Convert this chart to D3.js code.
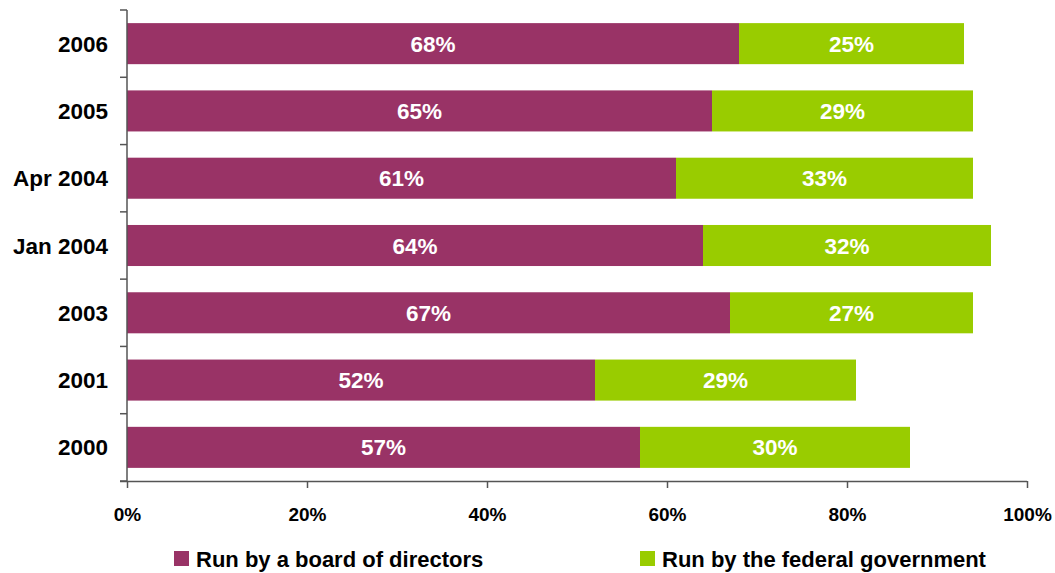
<!DOCTYPE html>
<html>
<head>
<meta charset="utf-8">
<script src="https://cdn.jsdelivr.net/npm/d3@7"></script>
<style>
  html, body { margin: 0; padding: 0; background: #fff; }
  svg { display: block; font-family: "Liberation Sans", Arial, Helvetica, sans-serif; }
</style>
</head>
<body>
<svg id="chart" width="1055" height="573"></svg>
<script>
// Survey periods, top to bottom
const categories = ["2006", "2005", "Apr 2004", "Jan 2004", "2003", "2001", "2000"];
// Share answering each option (%)
const boardValues = [68, 65, 61, 64, 67, 52, 57];
const federalValues = [25, 29, 33, 32, 27, 29, 30];
const seriesNames = ["Run by a board of directors", "Run by the federal government"];
const seriesColors = ["#993366", "#99cc00"];
const xTicks = [0, 20, 40, 60, 80, 100];

const svg = d3.select("#chart");
const margin = { left: 127, right: 28, top: 10, bottom: 92 };
const W = 1055, H = 573;

const x = d3.scaleLinear().domain([0, 100]).range([margin.left, W - margin.right]);
const y = d3.scaleBand().domain(categories).range([margin.top, H - margin.bottom]).paddingInner(0.39).paddingOuter(0.195);

const rows = categories.map((c, i) => ({ cat: c, vals: [boardValues[i], federalValues[i]] }));
const stacked = [];
rows.forEach(r => {
  let acc = 0;
  r.vals.forEach((v, s) => {
    stacked.push({ cat: r.cat, s, x0: acc, x1: acc + v, v });
    acc += v;
  });
});

// Bars
svg.append("g").selectAll("rect").data(stacked).join("rect")
  .attr("x", d => x(d.x0))
  .attr("y", d => y(d.cat))
  .attr("width", d => x(d.x1) - x(d.x0))
  .attr("height", y.bandwidth())
  .attr("fill", d => seriesColors[d.s]);

// Value labels
svg.append("g").selectAll("text").data(stacked).join("text")
  .attr("x", d => (x(d.x0) + x(d.x1)) / 2)
  .attr("y", d => y(d.cat) + y.bandwidth() / 2)
  .attr("dy", "0.36em")
  .attr("text-anchor", "middle")
  .attr("fill", "#fff")
  .attr("font-weight", "bold")
  .attr("font-size", 22.5)
  .text(d => d.v + "%");

const axisColor = "#555";

// X axis
const xAxis = svg.append("g")
  .attr("transform", `translate(0,${H - margin.bottom})`)
  .call(d3.axisBottom(x).tickValues(xTicks).tickFormat(d => d + "%").tickSize(7).tickSizeOuter(0));
xAxis.select(".domain").attr("stroke", axisColor).attr("stroke-width", 1.5)
  .attr("d", `M${margin.left - 7},0.5H${x(100)}`);
xAxis.selectAll(".tick line").attr("stroke", axisColor).attr("stroke-width", 1.5);
xAxis.selectAll(".tick text")
  .attr("font-size", 19).attr("font-weight", "bold").attr("fill", "#000")
  .attr("font-family", "Liberation Sans, Arial, sans-serif")
  .attr("y", 27);

// Y axis: separator ticks between categories
const yAxisG = svg.append("g");
yAxisG.append("line")
  .attr("x1", margin.left).attr("x2", margin.left)
  .attr("y1", y.range()[0]).attr("y2", y.range()[1])
  .attr("stroke", axisColor).attr("stroke-width", 1.5);
const sepYs = d3.range(categories.length + 1).map(i => y.range()[0] + i * (y.range()[1] - y.range()[0]) / categories.length);
yAxisG.selectAll("line.sep").data(sepYs).join("line")
  .attr("class", "sep")
  .attr("x1", margin.left - 7).attr("x2", margin.left)
  .attr("y1", d => d).attr("y2", d => d)
  .attr("stroke", axisColor).attr("stroke-width", 1.5);
yAxisG.selectAll("text").data(categories).join("text")
  .attr("x", margin.left - 19)
  .attr("y", d => y(d) + y.bandwidth() / 2)
  .attr("dy", "0.36em")
  .attr("text-anchor", "end")
  .attr("font-size", 22.5)
  .attr("font-weight", "bold")
  .attr("fill", "#000")
  .text(d => d);

// Legend
const legendX = [174, 640];
const lg = svg.append("g").selectAll("g").data(seriesNames).join("g")
  .attr("transform", (d, i) => `translate(${legendX[i]},551)`);
lg.append("rect").attr("width", 15).attr("height", 15).attr("fill", (d, i) => seriesColors[i]);
lg.append("text")
  .attr("x", 22).attr("y", 8).attr("dy", "0.36em")
  .attr("font-size", 22).attr("font-weight", "bold").attr("fill", "#000")
  .text(d => d);
</script>
</body>
</html>
